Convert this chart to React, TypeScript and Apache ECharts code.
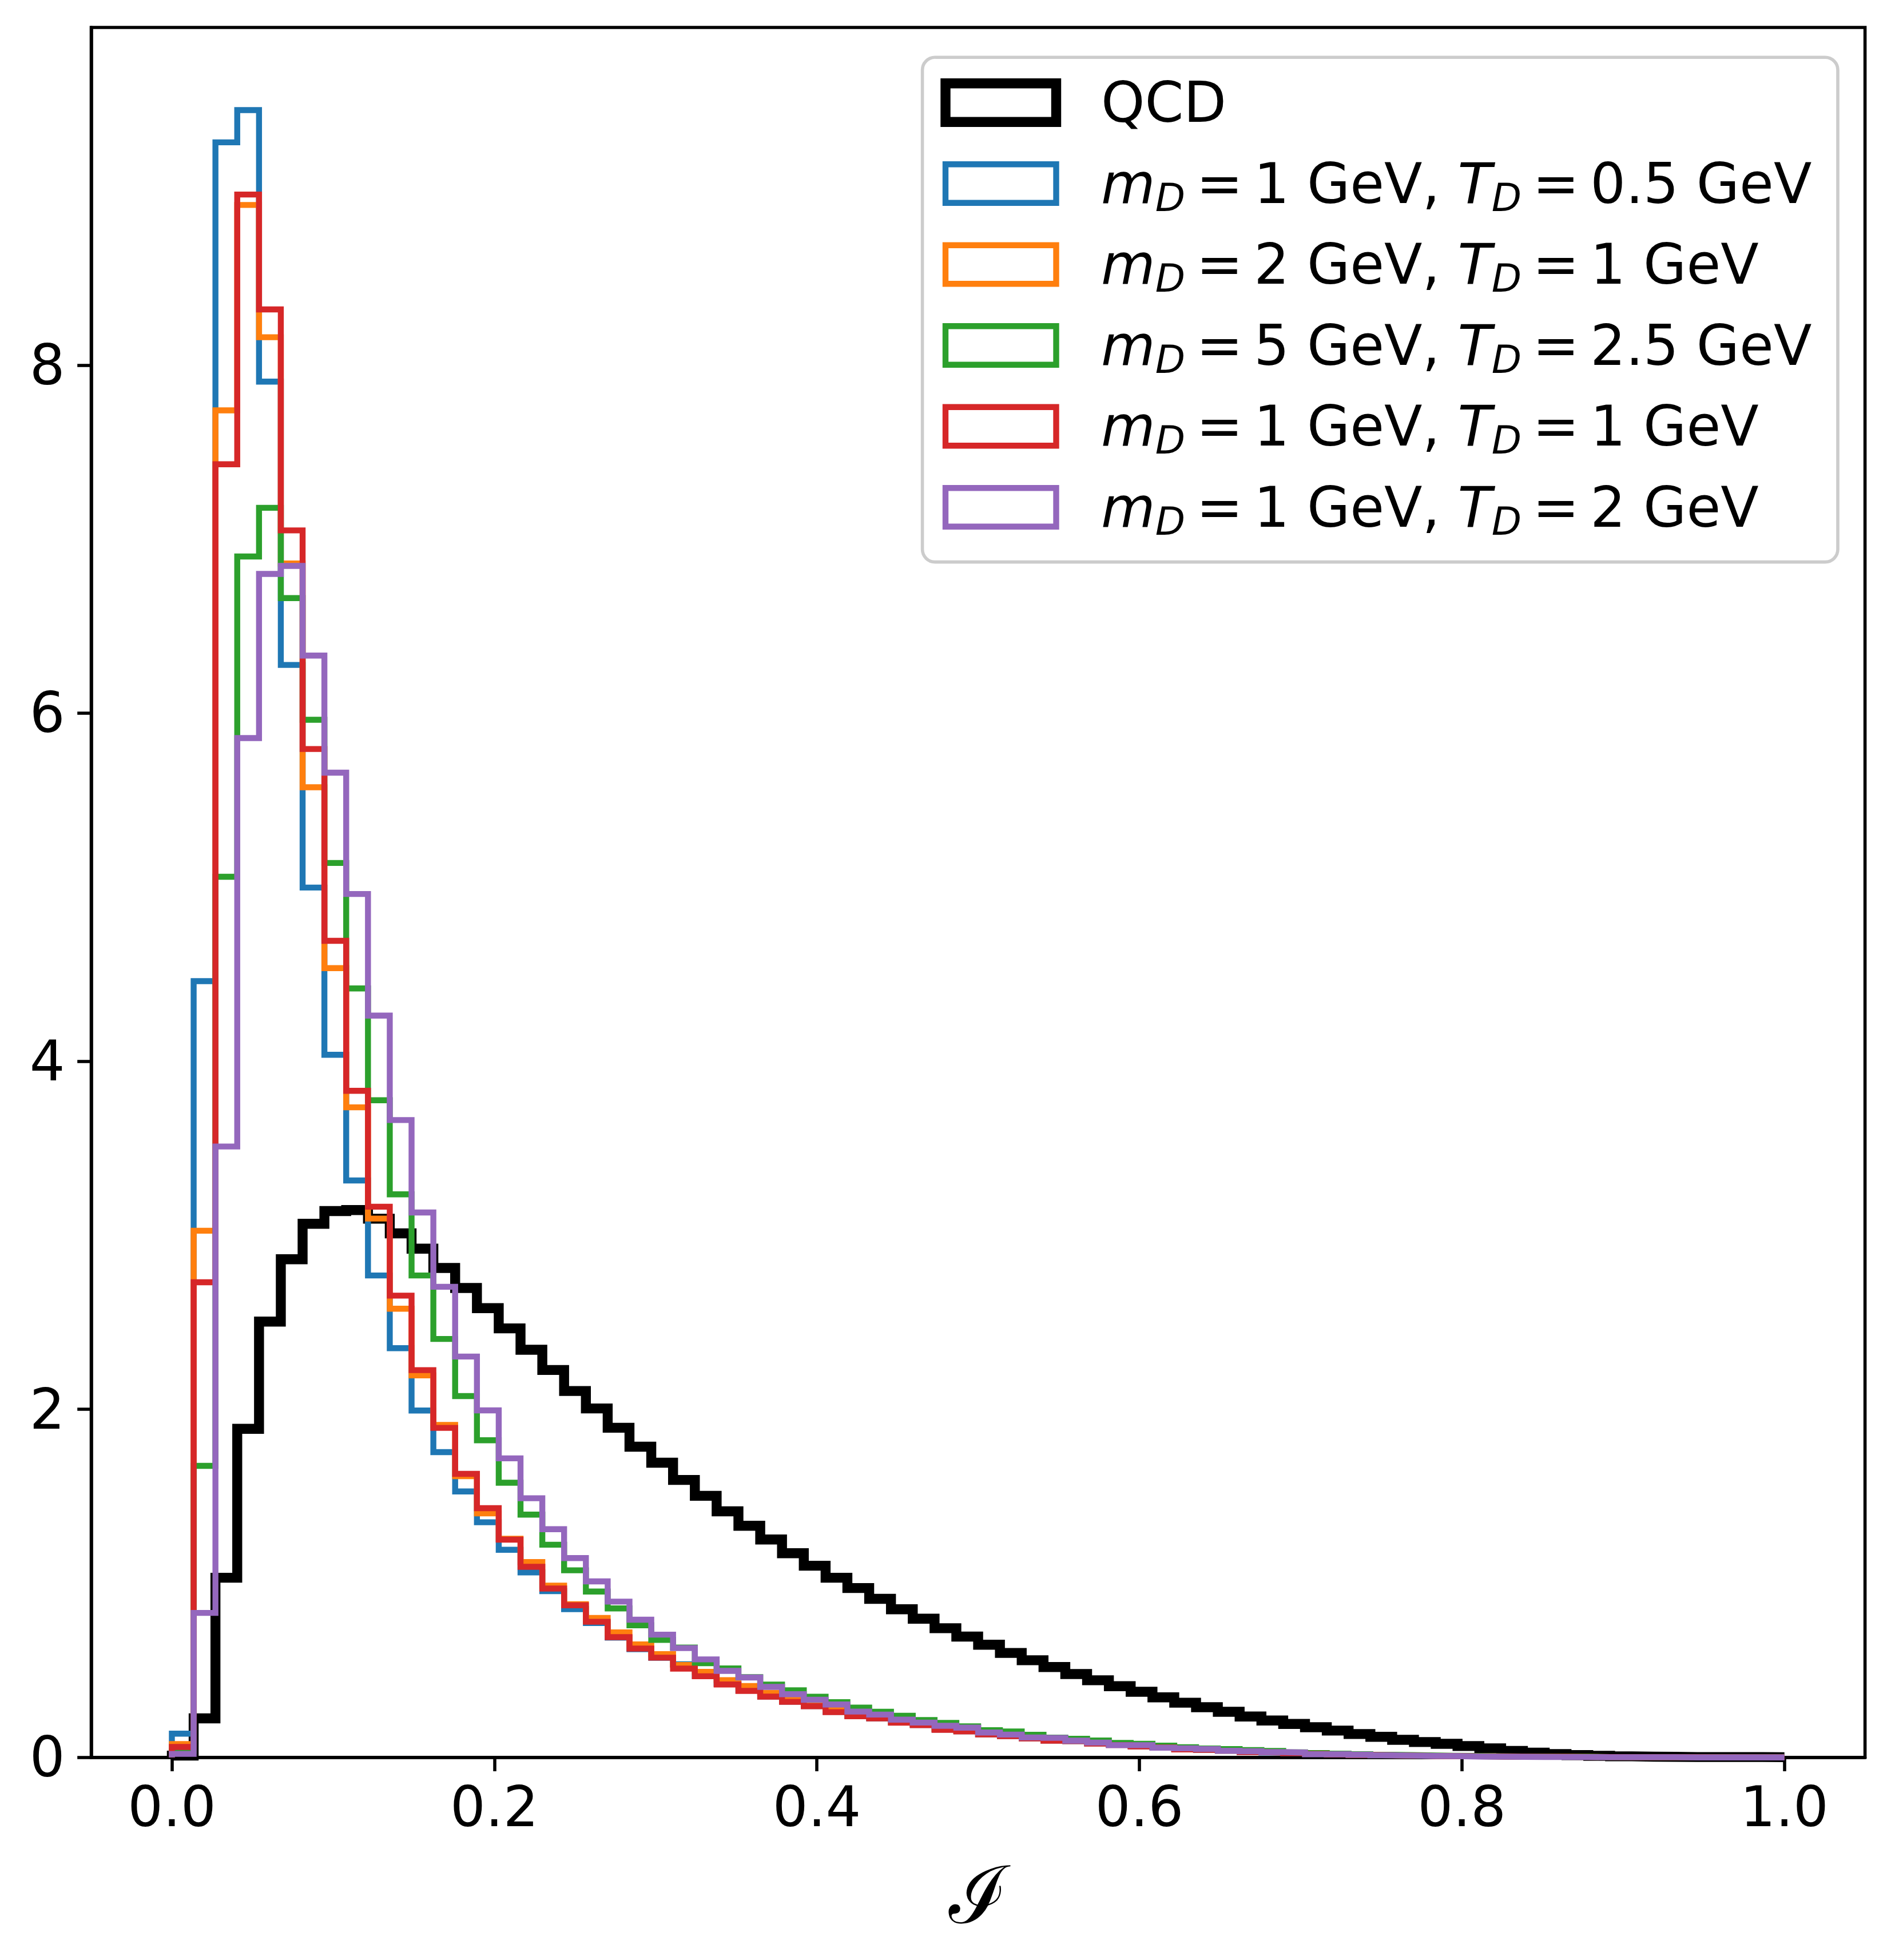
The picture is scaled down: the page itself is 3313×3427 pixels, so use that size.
import React, { useEffect, useRef } from "react";
import * as echarts from "echarts";

// ---- data (74 bins on [0,1]) ----
const binCount = 74;
const xTicks = [0, 0.2, 0.4, 0.6, 0.8, 1.0];
const yTicks = [0, 2, 4, 6, 8];

const qcd = [0.01, 0.224, 1.032, 1.888, 2.504, 2.862, 3.066, 3.139, 3.145, 3.095,
  3.011, 2.923, 2.812, 2.697, 2.581, 2.465, 2.342, 2.226, 2.105, 2.005,
  1.894, 1.785, 1.693, 1.594, 1.503, 1.414, 1.331, 1.252, 1.173, 1.101,
  1.032, 0.973, 0.911, 0.851, 0.797, 0.742, 0.694, 0.647, 0.600, 0.558,
  0.519, 0.479, 0.443, 0.409, 0.377, 0.345, 0.314, 0.288, 0.262, 0.235,
  0.212, 0.192, 0.173, 0.154, 0.134, 0.118, 0.101, 0.088, 0.078, 0.065,
  0.052, 0.037, 0.027, 0.019, 0.013, 0.009, 0.006, 0.004, 0.003, 0.002,
  0.002, 0.002, 0.002, 0.001];

const sigA = [0.136, 4.46, 9.28, 9.465, 7.905, 6.277, 4.998, 4.037, 3.315, 2.769,
  2.351, 1.993, 1.754, 1.528, 1.351, 1.193, 1.063, 0.955, 0.852, 0.772,
  0.688, 0.622, 0.572, 0.535, 0.468, 0.423, 0.384, 0.350, 0.320, 0.295,
  0.262, 0.238, 0.224, 0.200, 0.186, 0.160, 0.150, 0.133, 0.123, 0.110,
  0.097, 0.093, 0.080, 0.072, 0.064, 0.057, 0.046, 0.043, 0.038, 0.031,
  0.028, 0.024, 0.020, 0.017, 0.014, 0.012, 0.010, 0.008, 0.007, 0.006,
  0.005, 0.004, 0.003, 0.003, 0.002, 0.002, 0.001, 0.001, 0.001, 0.0,
  0.0, 0.0, 0.0, 0.0];

const sigB = [0.076, 3.026, 7.74, 8.92, 8.16, 6.86, 5.574, 4.535, 3.735, 3.096,
  2.578, 2.195, 1.910, 1.616, 1.402, 1.256, 1.122, 0.987, 0.880, 0.801,
  0.718, 0.649, 0.593, 0.531, 0.491, 0.444, 0.410, 0.370, 0.333, 0.311,
  0.282, 0.252, 0.231, 0.203, 0.190, 0.164, 0.153, 0.136, 0.126, 0.113,
  0.100, 0.096, 0.083, 0.074, 0.066, 0.060, 0.049, 0.046, 0.041, 0.033,
  0.030, 0.026, 0.022, 0.019, 0.016, 0.013, 0.011, 0.009, 0.008, 0.007,
  0.006, 0.005, 0.004, 0.003, 0.003, 0.002, 0.002, 0.001, 0.001, 0.001,
  0.001, 0.0, 0.0, 0.0];

const sigC = [0.037, 1.675, 5.06, 6.90, 7.18, 6.661, 5.962, 5.139, 4.418, 3.776,
  3.235, 2.769, 2.404, 2.076, 1.822, 1.578, 1.395, 1.222, 1.075, 0.953,
  0.856, 0.759, 0.675, 0.631, 0.541, 0.511, 0.461, 0.418, 0.385, 0.348,
  0.317, 0.286, 0.262, 0.239, 0.2145, 0.198, 0.178, 0.156, 0.149, 0.130,
  0.1135, 0.107, 0.097, 0.083, 0.078, 0.0675, 0.058, 0.051, 0.048, 0.042,
  0.037, 0.029, 0.025, 0.021, 0.018, 0.015, 0.013, 0.011, 0.009, 0.008,
  0.006, 0.005, 0.004, 0.003, 0.003, 0.002, 0.002, 0.001, 0.001, 0.001,
  0.0, 0.0, 0.0, 0.0];

const sigD = [0.06, 2.73, 7.43, 8.98, 8.32, 7.05, 5.794, 4.692, 3.83, 3.164,
  2.653, 2.225, 1.893, 1.629, 1.432, 1.251, 1.095, 0.970, 0.874, 0.779,
  0.691, 0.625, 0.573, 0.510, 0.466, 0.419, 0.382, 0.349, 0.319, 0.294,
  0.260, 0.236, 0.224, 0.199, 0.185, 0.1585, 0.149, 0.132, 0.122, 0.109,
  0.096, 0.093, 0.0795, 0.071, 0.063, 0.057, 0.0455, 0.043, 0.038, 0.030,
  0.028, 0.024, 0.020, 0.017, 0.014, 0.012, 0.010, 0.008, 0.007, 0.006,
  0.005, 0.004, 0.003, 0.003, 0.002, 0.002, 0.001, 0.001, 0.001, 0.001,
  0.0, 0.0, 0.0, 0.0];

const sigE = [0.02, 0.83, 3.51, 5.857, 6.80, 6.846, 6.331, 5.658, 4.961, 4.262,
  3.662, 3.131, 2.704, 2.303, 1.994, 1.718, 1.489, 1.311, 1.145, 1.011,
  0.895, 0.791, 0.705, 0.628, 0.563, 0.497, 0.459, 0.405, 0.363, 0.331,
  0.304, 0.263, 0.246, 0.2166, 0.200, 0.1815, 0.1706, 0.143, 0.131, 0.1146,
  0.112, 0.096, 0.085, 0.070, 0.070, 0.0554, 0.052, 0.048, 0.038, 0.035,
  0.030, 0.028, 0.018, 0.0186, 0.0154, 0.012, 0.010, 0.008, 0.007, 0.005,
  0.0045, 0.003, 0.0025, 0.002, 0.002, 0.001, 0.001, 0.001, 0.001, 0.0,
  0.0, 0.0, 0.0, 0.0];

const seriesValues = [qcd, sigA, sigB, sigC, sigD, sigE];
const seriesNames = ["QCD", "mD=1,TD=0.5", "mD=2,TD=1", "mD=5,TD=2.5", "mD=1,TD=1", "mD=1,TD=2"];
const mDvals = [1, 2, 5, 1, 1];
const TDvals = ["0.5", "1", "2.5", "1", "2"];
const colors = ["#000000", "#1f77b4", "#ff7f0e", "#2ca02c", "#d62728", "#9467bd"];

const FONT = "DejaVu Sans";
const FS = 97.2;

function stepPoints(vals: number[]) {
  const pts: number[][] = [[0, 0]];
  vals.forEach((v, i) => {
    pts.push([i / binCount, v]);
    pts.push([(i + 1) / binCount, v]);
  });
  pts.push([1, 0]);
  return pts;
}

function legendText(i: number) {
  if (i === 0) return "{t|QCD}";
  const m = mDvals[i - 1];
  const t = TDvals[i - 1];
  return `{i|m}{s|D}{t|\u2009=\u2009${m} GeV, }{i|T}{s|D}{t|\u2009=\u2009${t} GeV}`;
}

export default function App() {
  const ref = useRef<HTMLDivElement>(null);
  useEffect(() => {
    document.body.style.margin = "0";
    if (!ref.current) return;
    const chart = echarts.init(ref.current, undefined, { renderer: "svg" });

    const rich = {
      t: { fontFamily: FONT, fontSize: FS, lineHeight: 116, verticalAlign: "middle", color: "#000" },
      i: { fontFamily: FONT, fontStyle: "italic", fontSize: FS, lineHeight: 116, verticalAlign: "middle", color: "#000" },
      s: { fontFamily: FONT, fontStyle: "italic", fontSize: 68, lineHeight: 68, verticalAlign: "bottom", color: "#000" },
    };

    const rowY = [179.5, 321, 462.5, 604, 745.5, 887];
    const legendEls: any[] = [
      {
        type: "rect",
        shape: { x: 1612.6, y: 100.3, width: 1600.4, height: 882.3, r: 22 },
        style: { fill: "rgba(255,255,255,0.8)", stroke: "#cccccc", lineWidth: 5.6 },
        z: 100,
      },
    ];
    rowY.forEach((cy, i) => {
      const lw = i === 0 ? 17.4 : 10.4;
      legendEls.push({
        type: "rect",
        shape: { x: 1653, y: cy - 33.8, width: 193.5, height: 67.6 },
        style: { fill: "none", stroke: colors[i], lineWidth: lw, lineJoin: "miter" },
        z: 101,
      });
      legendEls.push({
        type: "text",
        x: 1925,
        y: cy,
        style: {
          text: legendText(i),
          rich,
          align: "left",
          verticalAlign: "middle",
          fontFamily: FONT,
          fontSize: FS,
        },
        z: 101,
      });
    });

    const option: any = {
      animation: false,
      backgroundColor: "#ffffff",
      grid: {
        left: 159.5,
        right: 52.4,
        top: 48,
        bottom: 354.3,
        show: true,
        borderColor: "#000",
        borderWidth: 5.56,
        backgroundColor: "#fff",
        containLabel: false,
      },
      xAxis: {
        type: "value",
        min: -0.05,
        max: 1.05,
        name: "\u2110",
        nameLocation: "middle",
        nameGap: 172,
        nameTextStyle: { fontFamily: "DejaVu Serif", fontSize: 139, color: "#000" },
        axisLine: { show: true, onZero: false, lineStyle: { color: "#000", width: 5.56 } },
        axisTick: { show: true, inside: false, length: 24.3, customValues: xTicks, lineStyle: { color: "#000", width: 5.56 } },
        axisLabel: {
          customValues: xTicks,
          formatter: (v: number) => v.toFixed(1),
          fontFamily: FONT,
          fontSize: FS,
          color: "#000",
          margin: 38,
        },
        splitLine: { show: false },
      },
      yAxis: {
        type: "value",
        min: 0,
        max: 9.94,
        axisLine: { show: true, onZero: false, lineStyle: { color: "#000", width: 5.56 } },
        axisTick: { show: true, inside: false, length: 24.3, customValues: yTicks, lineStyle: { color: "#000", width: 5.56 } },
        axisLabel: {
          customValues: yTicks,
          formatter: (v: number) => String(v),
          fontFamily: FONT,
          fontSize: FS,
          color: "#000",
          margin: 46,
        },
        splitLine: { show: false },
      },
      series: seriesValues.map((vals, i) => ({
        name: seriesNames[i],
        type: "line",
        data: stepPoints(vals),
        symbol: "none",
        showSymbol: false,
        smooth: false,
        lineStyle: { color: colors[i], width: i === 0 ? 17.4 : 10.4, join: "miter", cap: "butt" },
        itemStyle: { color: colors[i] },
        z: 2 + i,
        silent: true,
      })),
      graphic: legendEls,
    };

    chart.setOption(option);
    return () => chart.dispose();
  }, []);

  return <div ref={ref} style={{ width: "3313px", height: "3427px" }} />;
}
